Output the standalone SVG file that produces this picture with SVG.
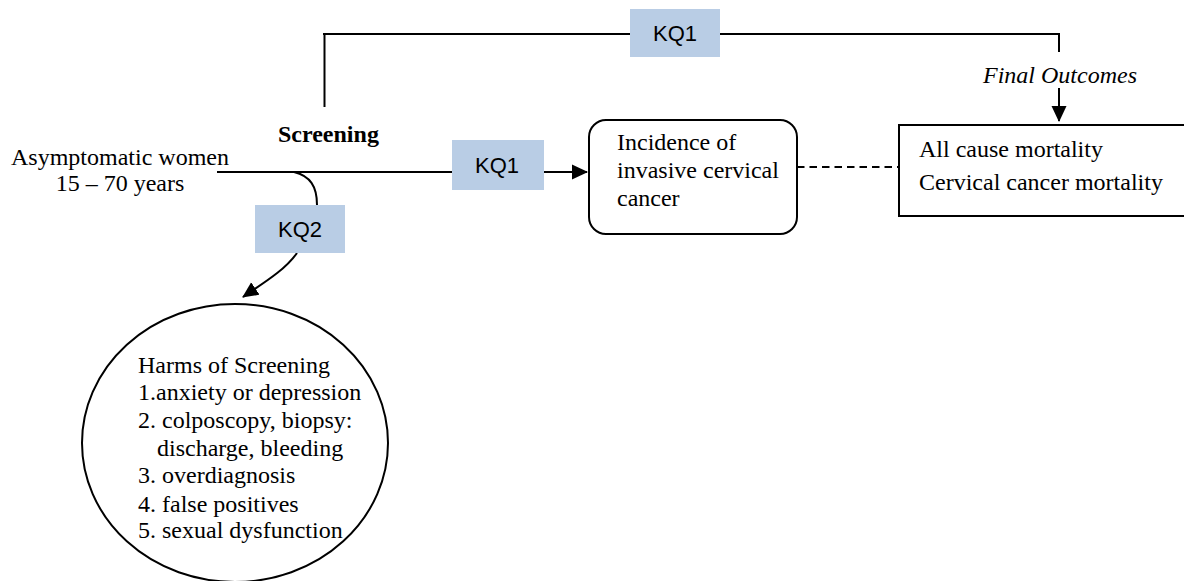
<svg xmlns="http://www.w3.org/2000/svg" width="1184" height="581" viewBox="0 0 1184 581">
<style>
.t{font-family:"Liberation Serif","Times New Roman",serif;font-size:24px;fill:#000}
.b{font-weight:bold}
.i{font-style:italic}
.kq{fill:#B9CDE5}
.kt{font-family:"Liberation Sans",Arial,sans-serif;font-size:22px;fill:#000;text-anchor:middle}
.ln{fill:none;stroke:#000;stroke-width:2}
.nd{fill:#fff;stroke:#000;stroke-width:2}
</style>
<defs>
<marker id="ah" markerWidth="16" markerHeight="16" refX="15" refY="8" orient="auto" markerUnits="userSpaceOnUse">
<path d="M0,0.5 L16,8 L0,15.5 Z" fill="#000"/>
</marker>
</defs>
<g id="connectors">
<path class="ln" d="M323,34 H1059 V52"/>
<path class="ln" d="M324.5,34 V107"/>
<path class="ln" d="M217,172 H452"/>
<path class="ln" d="M544,172 H587" marker-end="url(#ah)"/>
<path class="ln" d="M1059,88 V121" marker-end="url(#ah)"/>
<path class="ln" d="M294,172 C310,176 317,186 317,205"/>
<path class="ln" d="M297,253 C285,270 265,282 243,297" marker-end="url(#ah)"/>
<path class="ln" stroke-dasharray="7.5,5" d="M797,167 H899"/>
</g>
<g id="kq1-top">
<rect class="kq" x="630" y="9" width="90" height="48"/>
<text class="kt" x="675" y="41">KQ1</text>
</g>
<g id="kq1-mid">
<rect class="kq" x="452" y="140" width="92" height="50"/>
<text class="kt" x="497" y="173">KQ1</text>
</g>
<g id="kq2">
<rect class="kq" x="255" y="205" width="90" height="48"/>
<text class="kt" x="300" y="237">KQ2</text>
</g>
<g id="population">
<text class="t" x="11" y="165">Asymptomatic women</text>
<text class="t" x="120" y="191" text-anchor="middle">15 – 70 years</text>
</g>
<g id="screening">
<text class="t b" x="278" y="142">Screening</text>
</g>
<g id="final-outcomes-label">
<text class="t i" x="983" y="83">Final Outcomes</text>
</g>
<g id="incidence">
<rect class="nd" x="589" y="120" width="208" height="114" rx="17" ry="17"/>
<text class="t" x="617" y="150">Incidence of</text>
<text class="t" x="617" y="178">invasive cervical</text>
<text class="t" x="617" y="206">cancer</text>
</g>
<g id="outcomes">
<rect class="nd" x="899" y="125" width="290" height="91"/>
<text class="t" x="919" y="157">All cause mortality</text>
<text class="t" x="919" y="190">Cervical cancer mortality</text>
</g>
<g id="harms">
<ellipse class="nd" cx="235" cy="443" rx="153" ry="139"/>
<text class="t" x="138" y="373">Harms of Screening</text>
<text class="t" x="138" y="400">1.anxiety or depression</text>
<text class="t" x="138" y="428">2. colposcopy, biopsy:</text>
<text class="t" x="157" y="456">discharge, bleeding</text>
<text class="t" x="138" y="483">3. overdiagnosis</text>
<text class="t" x="138" y="512">4. false positives</text>
<text class="t" x="138" y="538">5. sexual dysfunction</text>
</g>
</svg>
